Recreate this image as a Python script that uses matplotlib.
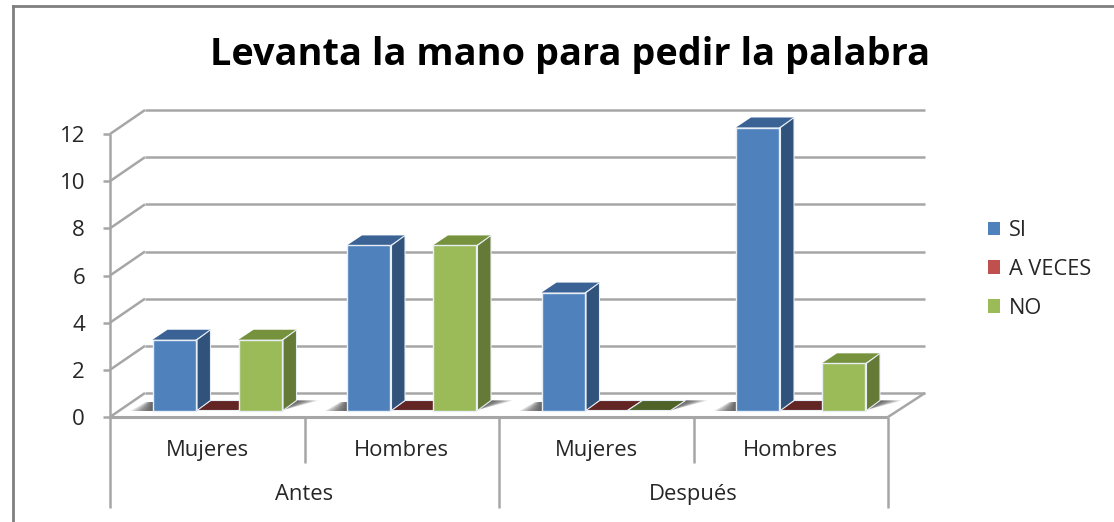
import matplotlib
matplotlib.use("Agg")
import matplotlib.pyplot as plt
from matplotlib.patches import Polygon, Patch

plt.rcParams['font.family'] = ['Open Sans', 'DejaVu Sans']

groups = ["Antes", "Después"]
categories = ["Mujeres", "Hombres", "Mujeres", "Hombres"]
series_names = ["SI", "A VECES", "NO"]
si = [3, 7, 5, 12]
a_veces = [0, 0, 0, 0]
no = [3, 7, 0, 2]
yticks = [0, 2, 4, 6, 8, 10, 12]
series = [si, a_veces, no]
front = ["#4F81BD", "#C0504D", "#9BBB59"]
side = ["#31527B", "#772C2A", "#647A36"]
top = ["#3A6295", "#632523", "#76923C"]
flat = ["#3A6295", "#632523", "#4F6228"]
GRID = "#A6A6A6"

W, H = 1114, 522
fig = plt.figure(figsize=(W / 100, H / 100), dpi=100, facecolor="white")
ax = fig.add_axes([110 / W, 1 - 417 / H, 778 / W, 283 / H])
ax.set_xlim(0, 4)
ax.set_ylim(0, 12)
ax.axis("off")
ux = 4 / 778   # data per pixel
uy = 12 / 283

def poly(pts, fc, ec="none", lw=0, z=3, alpha=None):
    ax.add_patch(Polygon(pts, closed=True, fc=fc, ec=ec, lw=lw, zorder=z, clip_on=False, alpha=alpha))

def line(xs, ys, lw=1.8, c=GRID, z=2):
    ax.plot(xs, ys, color=c, lw=lw, zorder=z, clip_on=False, solid_capstyle="butt")

# outer frame
fig.add_artist(plt.Line2D([13.5 / W, 13.5 / W], [0, 1 - 6 / H], color="#7F7F7F", lw=2))
fig.add_artist(plt.Line2D([13.5 / W, 1], [1 - 6 / H, 1 - 6 / H], color="#7F7F7F", lw=2))

DX, DY = 35 * ux, 24 * uy
# walls + floor
for v in yticks:
    line([DX, 4 + 37 * ux], [v + DY, v + DY])
    line([0, DX], [v, v + DY])
    line([-7 * ux, 0], [v, v])
line([0, 0], [0, 12])
line([0, 4], [0, 0], lw=2.2, z=6)
line([4, 4 + 37 * ux], [0, DY], z=6)

# bars
bw = 43 * ux
bx = 42.5 * ux
by = 6.5 * uy
bdx, bdy = 15 * ux, 10 * uy
for c in range(4):
    x0 = c + bx
    # floor shadows
    n = 14
    for k in range(n):
        a = 0.1
        poly([(x0 - (k + 1) * 1.6 * ux, by), (x0, by), (x0, by + 9 * uy), (x0 - (k + 1) * 0.5 * ux, by + 9 * uy)], "#404040", z=2.5, alpha=a)
        xr = x0 + 3 * bw
        poly([(xr, by), (xr + bdx + (k + 1) * 1.6 * ux, by + bdy), (xr + bdx, by + bdy)], "#404040", z=2.5, alpha=a)
    for s in range(3):
        v = series[s][c]
        x = x0 + s * bw
        y0, y1 = by, by + v
        if v > 0:
            poly([(x, y1), (x + bw, y1), (x + bw + bdx, y1 + bdy), (x + bdx, y1 + bdy)], top[s], z=4 + s + c)
            poly([(x + bw + 1.5 * ux, y0), (x + bw + bdx, y0 + bdy), (x + bw + bdx, y1 + bdy), (x + bw + 1.5 * ux, y1)], side[s], ec="#E8EEF5", lw=0.8, z=4 + s + c)
            poly([(x, y0), (x + bw, y0), (x + bw, y1), (x, y1)], front[s], ec="#E8EEF5", lw=1.0, z=4 + s + c)
        else:
            poly([(x, y1), (x + bw, y1), (x + bw + bdx, y1 + bdy), (x + bdx, y1 + bdy)], flat[s], ec="#E8EEF5", lw=0.8, z=3.5)

# y tick labels
for v in yticks:
    ax.text(-25 * ux, v - 8 * uy, str(v), ha="right", va="baseline", fontsize=16, color="#262626")

# multi-level axis
for i in range(5):
    depth = 91 if i % 2 == 0 else 46
    line([i, i], [0, -depth * uy], z=6)
for i, lab in enumerate(categories):
    ax.text(i + 0.5, -39 * uy, lab, ha="center", va="baseline", fontsize=15.8, color="#262626")
for i, lab in enumerate(groups):
    ax.text(2 * i + 1, -83 * uy, lab, ha="center", va="baseline", fontsize=15.8, color="#262626")

ax.text(570 / W, 1 - 55 / H, "Levanta la mano para pedir la palabra", transform=fig.transFigure,
        ha="center", va="center", fontsize=27.3, fontweight="bold", color="black")

handles = [Patch(fc=f, ec="none") for f in front]
fig.legend(handles, series_names, loc="upper left", bbox_to_anchor=(988 / W, 1 - 220 / H), frameon=False,
           fontsize=15.7, handlelength=0.57, handleheight=0.57, handletextpad=0.41, labelspacing=0.82,
           borderpad=0, borderaxespad=0, labelcolor="#262626")

fig.savefig("out.png", dpi=100)
